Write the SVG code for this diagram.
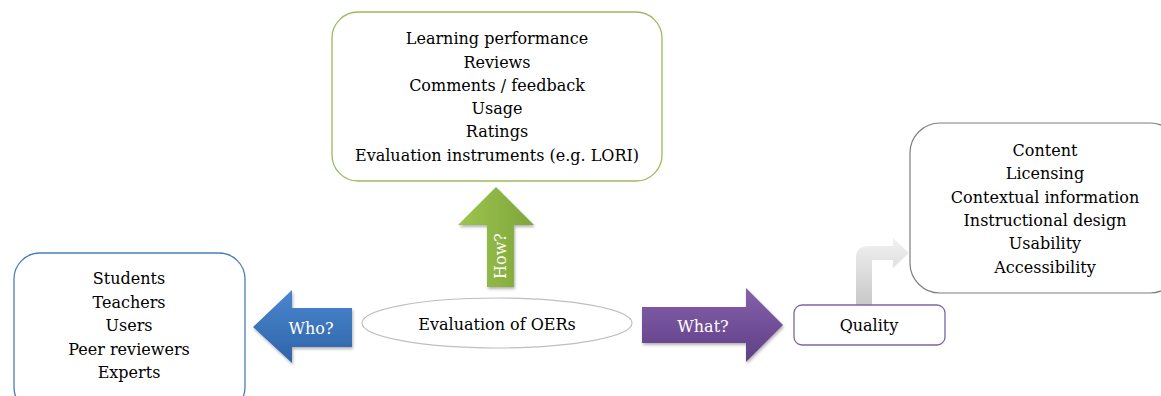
<svg xmlns="http://www.w3.org/2000/svg" width="1161" height="396" viewBox="0 0 1161 396">
<style>
.t{font-family:"DejaVu Serif","Liberation Serif",serif;font-size:16px;fill:#000;text-anchor:middle}
.w{font-family:"DejaVu Serif","Liberation Serif",serif;font-size:16px;fill:#fff;text-anchor:middle}
</style>
<defs>
<linearGradient id="gb" x1="0" y1="0" x2="0" y2="1"><stop offset="0" stop-color="#4a86cf"/><stop offset="1" stop-color="#2f64a8"/></linearGradient>
<linearGradient id="gg" x1="0" y1="0" x2="1" y2="0"><stop offset="0" stop-color="#9dc54e"/><stop offset="1" stop-color="#7ea53a"/></linearGradient>
<linearGradient id="gp" x1="0" y1="0" x2="0" y2="1"><stop offset="0" stop-color="#8561ab"/><stop offset="1" stop-color="#5f3f86"/></linearGradient>
<linearGradient id="gr" x1="0" y1="1" x2="0" y2="0"><stop offset="0" stop-color="#c8c8c8"/><stop offset="1" stop-color="#f2f2f2"/></linearGradient>
<filter id="sh" x="-20%" y="-20%" width="140%" height="150%"><feDropShadow dx="1" dy="2" stdDeviation="1.5" flood-color="#000" flood-opacity="0.3"/></filter>
</defs>
<g id="connectors">
<path d="M253,327 L292,290 L292,308 L352,308 L352,347 L292,347 L292,363 Z" fill="url(#gb)" filter="url(#sh)"/>
<path d="M496,187 L534,225 L514,225 L514,287 L487,287 L487,225 L458,225 Z" fill="url(#gg)" filter="url(#sh)"/>
<path d="M642,307 L746,307 L746,288 L783,325 L746,362 L746,343 L642,343 Z" fill="url(#gp)" filter="url(#sh)"/>
<path d="M856,305 L856,258 Q856,246 868,246 L893,246 L893,238 L909,253 L893,268 L893,260 L872,260 L872,305 Z" fill="url(#gr)"/>
<text class="w" x="311" y="334">Who?</text>
<text class="w" x="0" y="0" transform="translate(506,256) rotate(-90)">How?</text>
<text class="w" x="703" y="332">What?</text>
</g>
<g id="how-box">
<rect x="332" y="12" width="330" height="169" rx="26" fill="#fff" stroke="#9bbb59" stroke-width="1.3"/>
<text class="t" x="497" y="44">Learning performance</text>
<text class="t" x="497" y="68">Reviews</text>
<text class="t" x="497" y="91">Comments / feedback</text>
<text class="t" x="497" y="114">Usage</text>
<text class="t" x="497" y="137">Ratings</text>
<text class="t" x="497" y="161">Evaluation instruments (e.g. LORI)</text>
</g>
<g id="who-box">
<rect x="14" y="253" width="231" height="160" rx="26" fill="#fff" stroke="#4a7ebb" stroke-width="1.3"/>
<text class="t" x="129" y="284">Students</text>
<text class="t" x="129" y="308">Teachers</text>
<text class="t" x="129" y="331">Users</text>
<text class="t" x="129" y="355">Peer reviewers</text>
<text class="t" x="129" y="378">Experts</text>
</g>
<g id="center">
<ellipse cx="497" cy="323" rx="135" ry="25" fill="#fff" stroke="#bfbfbf" stroke-width="1.2"/>
<text class="t" x="497" y="330">Evaluation of OERs</text>
</g>
<g id="quality">
<rect x="794" y="305" width="151" height="40" rx="8" fill="#fff" stroke="#8064a2" stroke-width="1.3"/>
<text class="t" x="869" y="331">Quality</text>
</g>
<g id="what-box">
<rect x="910" y="123" width="270" height="170" rx="30" fill="#fff" stroke="#7f7f7f" stroke-width="1.2"/>
<text class="t" x="1045" y="156">Content</text>
<text class="t" x="1045" y="179">Licensing</text>
<text class="t" x="1045" y="203">Contextual information</text>
<text class="t" x="1045" y="226">Instructional design</text>
<text class="t" x="1045" y="249">Usability</text>
<text class="t" x="1045" y="273">Accessibility</text>
</g>
</svg>
